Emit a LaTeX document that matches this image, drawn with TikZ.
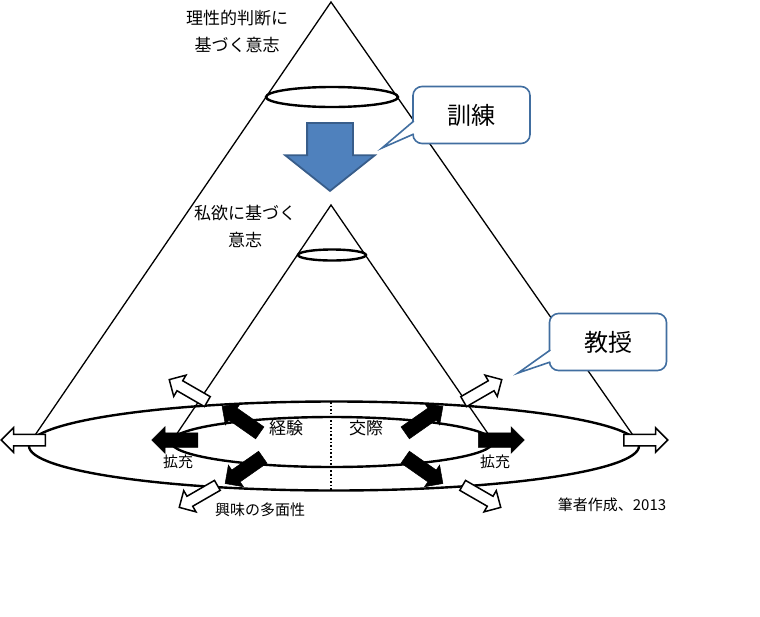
\documentclass[tikz,border=0pt]{standalone}
\usepackage{fontspec}
\setmainfont{Noto Sans CJK JP}
\usetikzlibrary{shapes.arrows, calc}

\definecolor{arrowblue}{RGB}{79,129,189}
\definecolor{arrowedge}{RGB}{56,93,138}
\definecolor{speechedge}{RGB}{65,110,160}

\tikzset{
    txt/.style={font=\fontsize{17}{27}\selectfont, align=center, inner sep=0pt},
    smalltxt/.style={font=\fontsize{15}{18}\selectfont, inner sep=0pt},
    speech/.style={draw=speechedge, line width=1.6pt, rounded corners=9pt, fill=white, outer sep=0pt,
        minimum width=117pt, minimum height=57pt, font=\fontsize{24}{28}\selectfont},
    speechline/.style={draw=speechedge, line width=1.6pt, line join=miter},
    solidarr/.style={single arrow, fill=black, draw=black, line width=0.5pt, inner sep=7pt,
        single arrow head extend=6pt, minimum height=46pt},
    hollowarr/.style={single arrow, fill=white, draw=black, line width=1.5pt, inner sep=5pt,
        single arrow head extend=6.5pt, minimum height=44pt},
    bigarr/.style={single arrow, fill=arrowblue, draw=arrowedge, line width=1.8pt, inner sep=22pt,
        single arrow head extend=22pt, single arrow tip angle=103, minimum height=68pt},
}

\begin{document}
\begin{tikzpicture}[x=1pt, y=-1pt]
    \useasboundingbox (0,0) rectangle (760,616);

    \coordinate (bigtop) at (331,2);
    \coordinate (bigleft) at (31,441);
    \coordinate (bigright) at (637,441);
    \coordinate (smalltop) at (331,205);
    \coordinate (smallleft) at (172,441);
    \coordinate (smallright) at (493,441);

    \draw[line width=1.3pt] (bigleft) -- (bigtop) -- (bigright);
    \draw[line width=1.3pt] (smallleft) -- (smalltop) -- (smallright);

    \draw[line width=2.4pt] (332,97) ellipse [x radius=66, y radius=10];
    \draw[line width=2.4pt] (332,255) ellipse [x radius=34, y radius=5.5];
    \draw[line width=2.4pt] (334,446) ellipse [x radius=305, y radius=44.5];
    \draw[line width=2.4pt] (332,442) ellipse [x radius=161, y radius=25];

    \coordinate (midtop) at (331,402);
    \coordinate (midbottom) at (331,490);
    \draw[dotted, line width=1.6pt] (midtop) -- (midbottom);

    \node[txt] (reason) at (237,31) {理性的判断に\\基づく意志};
    \node[txt] (desire) at (245,226) {私欲に基づく\\意志};
    \node[txt] (exper) at (286,428) {経験};
    \node[txt] (social) at (366,428) {交際};
    \node[smalltxt] (expandL) at (178,462) {拡充};
    \node[smalltxt] (expandR) at (495,462) {拡充};
    \node[smalltxt] (interest) at (260,510) {興味の多面性};
    \node[smalltxt] (source) at (612,505) {筆者作成、2013};

    \node[bigarr, rotate=-90, anchor=tail] (down) at (330,122) {};

    % black arrows on the inner ring
    \node[solidarr, rotate=180, anchor=tail] (innerW) at (198,440) {};
    \node[solidarr, anchor=tail] (innerE) at (478,440) {};
    \node[solidarr, rotate=145, anchor=tail] (innerNW) at (260,433) {};
    \node[solidarr, rotate=215, anchor=tail] (innerSW) at (263,457) {};
    \node[solidarr, rotate=35, anchor=tail] (innerNE) at (405,433) {};
    \node[solidarr, rotate=-35, anchor=tail] (innerSE) at (405,457) {};

    % outline arrows on the outer ring
    \node[hollowarr, rotate=180, anchor=tail] (outerW) at (46,440) {};
    \node[hollowarr, anchor=tail] (outerE) at (623,440) {};
    \node[hollowarr, rotate=150, anchor=tail] (outerNW) at (208,402) {};
    \node[hollowarr, rotate=210, anchor=tail] (outerSW) at (218,485) {};
    \node[hollowarr, rotate=30, anchor=tail] (outerNE) at (463,402) {};
    \node[hollowarr, rotate=-30, anchor=tail] (outerSE) at (462,485) {};

    \node[speech] (training) at (471.5,115) {訓練};
    \coordinate (trainingptr) at (382,148);
    \fill[white] ($(training.west)+(2,6)$) -- (trainingptr) -- ($(training.west)+(2,19)$) -- cycle;
    \draw[speechline] ($(training.west)+(0.8,6)$) -- (trainingptr) -- ($(training.west)+(0.8,19)$);

    \node[speech] (teaching) at (608,342) {教授};
    \coordinate (teachingptr) at (518,373);
    \fill[white] ($(teaching.west)+(2,8)$) -- (teachingptr) -- ($(teaching.west)+(2,20)$) -- cycle;
    \draw[speechline] ($(teaching.west)+(0.8,8)$) -- (teachingptr) -- ($(teaching.west)+(0.8,20)$);

\end{tikzpicture}
\end{document}
